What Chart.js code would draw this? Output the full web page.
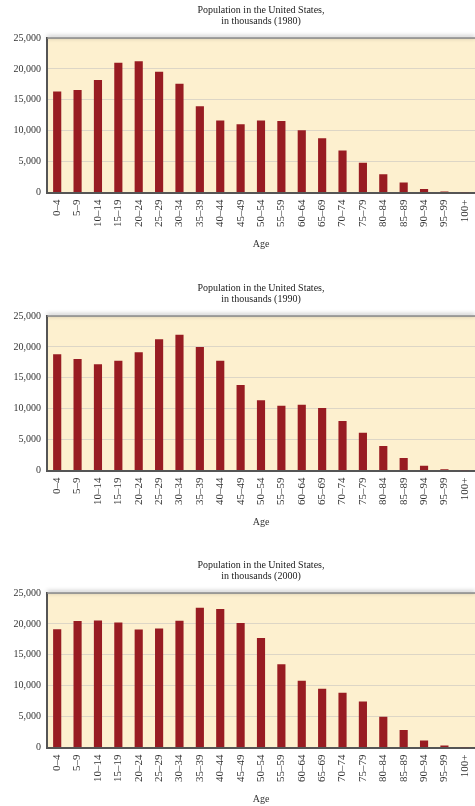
<!DOCTYPE html>
<html>
<head>
<meta charset="utf-8">
<script src="https://cdn.jsdelivr.net/npm/chart.js@4.4.1/dist/chart.umd.min.js"></script>
<style>
  body { margin: 0; background: #fff; width: 475px; height: 806px; overflow: hidden; }
  .box { position: absolute; left: 0; width: 475px; height: 250px; }
</style>
</head>
<body>
<div class="box" style="top:0px"><canvas id="c1980"></canvas></div>
<div class="box" style="top:278px"><canvas id="c1990"></canvas></div>
<div class="box" style="top:555px"><canvas id="c2000"></canvas></div>
<script>
// age groups on the x axis
const ageGroups = ['0–4', '5–9', '10–14', '15–19', '20–24', '25–29', '30–34', '35–39', '40–44',
  '45–49', '50–54', '55–59', '60–64', '65–69', '70–74', '75–79', '80–84', '85–89', '90–94', '95–99', '100+'];

// population in thousands
const pop1980 = [16350, 16600, 18200, 21000, 21250, 19550, 17600, 13950, 11650, 11050, 11650,
  11550, 10080, 8780, 6800, 4800, 2970, 1620, 580, 150, 30];
const pop1990 = [18800, 18050, 17200, 17750, 19150, 21250, 21950, 19980, 17750, 13830, 11350,
  10480, 10620, 10100, 8020, 6110, 3960, 2020, 750, 210, 40];
const pop2000 = [19150, 20450, 20550, 20220, 19080, 19250, 20500, 22600, 22400, 20150, 17700,
  13480, 10820, 9520, 8860, 7440, 4980, 2820, 1130, 310, 50];

const yTicks = [0, 5000, 10000, 15000, 20000, 25000];

const serif = 'Liberation Serif';

// cream panel, shadowed top edge, title centred over the panel
const panelBg = {
  id: 'panelBg',
  beforeDraw(chart) {
    const { ctx, chartArea: a } = chart;
    ctx.save();
    ctx.fillStyle = '#fdf0cf';
    ctx.fillRect(a.left, a.top, a.right - a.left, a.bottom - a.top);
    ctx.restore();
  },
  afterDraw(chart, args, opts) {
    const { ctx, chartArea: a } = chart;
    ctx.save();
    ctx.shadowColor = 'rgba(0,0,0,0.45)';
    ctx.shadowBlur = 4;
    ctx.shadowOffsetY = -1;
    ctx.strokeStyle = '#8a8a8a';
    ctx.lineWidth = 1.5;
    ctx.beginPath();
    ctx.moveTo(a.left, a.top);
    ctx.lineTo(a.right, a.top);
    ctx.stroke();
    ctx.restore();

    ctx.save();
    ctx.fillStyle = '#222';
    ctx.font = '10px "' + serif + '"';
    ctx.textAlign = 'center';
    ctx.textBaseline = 'middle';
    const cx = (a.left + a.right) / 2;
    opts.lines.forEach((t, i) => ctx.fillText(t, cx, 10 + i * 11.5));
    ctx.restore();
  }
};

function makeChart(id, year, values) {
  new Chart(document.getElementById(id), {
    type: 'bar',
    data: {
      labels: ageGroups,
      datasets: [{
        data: values,
        backgroundColor: '#981c22',
        borderWidth: 0,
        categoryPercentage: 1,
        barPercentage: 0.4
      }]
    },
    plugins: [panelBg],
    options: {
      responsive: true,
      maintainAspectRatio: false,
      animation: false,
      layout: { padding: { left: 0, right: 0, top: 38, bottom: 0 } },
      plugins: {
        legend: { display: false },
        tooltip: { enabled: false },
        title: { display: false },
        panelBg: { lines: ['Population in the United States,', 'in thousands (' + year + ')'] }
      },
      scales: {
        x: {
          afterFit(scale) { scale.paddingLeft = 0; scale.paddingRight = 0; },
          grid: { display: false, drawTicks: false },
          border: { display: true, color: '#555', width: 2 },
          ticks: {
            color: '#333',
            font: { family: serif, size: 11 },
            minRotation: 90,
            maxRotation: 90,
            autoSkip: false,
            padding: 7
          },
          title: {
            display: true,
            text: 'Age',
            color: '#333',
            font: { family: serif, size: 10 },
            padding: { top: 4, bottom: 0 }
          }
        },
        y: {
          min: 0,
          max: 25000,
          afterBuildTicks(scale) { scale.ticks = yTicks.map(v => ({ value: v })); },
          afterFit(scale) { scale.width = 47; },
          grid: { color: '#ddd6c6', lineWidth: 1, drawTicks: false },
          border: { display: true, color: '#555', width: 2 },
          ticks: {
            color: '#333',
            font: { family: serif, size: 10 },
            padding: 6,
            callback: v => v.toLocaleString('en-US')
          }
        }
      }
    }
  });
}

makeChart('c1980', 1980, pop1980);
makeChart('c1990', 1990, pop1990);
makeChart('c2000', 2000, pop2000);
</script>
</body>
</html>
